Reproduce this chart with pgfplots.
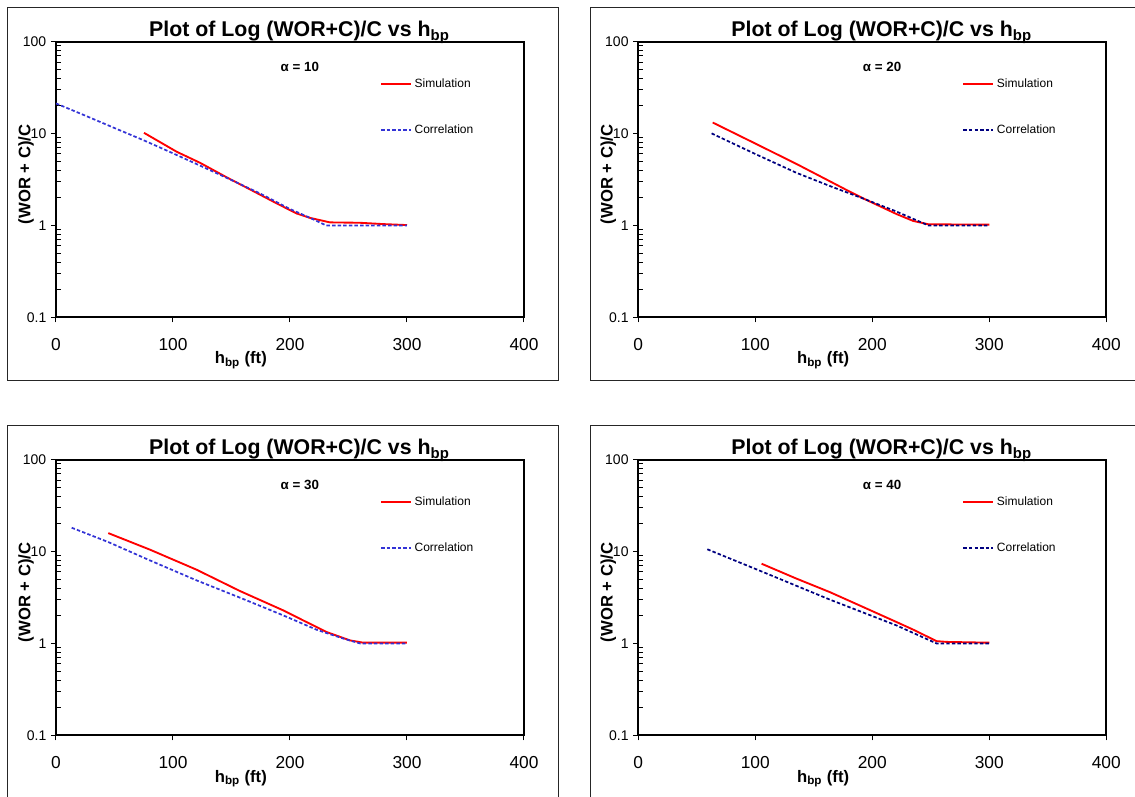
\documentclass[border=0pt]{standalone}
\usepackage{fontspec}
\setmainfont{Liberation Sans}
\usepackage{pgfplots}
\pgfplotsset{compat=1.18}
\definecolor{simred}{RGB}{255,0,0}
\definecolor{corblue}{RGB}{51,51,214}
\definecolor{cornavy}{RGB}{0,0,128}
\pgfplotsset{
    scale only axis, width=351pt, height=206.7pt,
    xmin=0, xmax=400, ymin=0.1, ymax=100,
    xtick={0,100,200,300,400},
    ytick={0.1,1,10,100}, yticklabels={0.1,1,10,100},
    yminorticks=false,
    extra y ticks={0.2,0.3,0.4,0.5,0.6,0.7,0.8,0.9,2,3,4,5,6,7,8,9,20,30,40,50,60,70,80,90},
    extra y tick labels={},
    extra y tick style={tick align=inside, major tick length=3.5pt},
    axis line style={line width=1.5pt, black},
    tick pos=left, tick align=outside,
    major tick length=3.75pt,
    every tick/.style={black, line width=0.75pt},
    /pgf/number format/assume math mode=true,
    xticklabel style={font=\fontsize{13}{15}\selectfont, yshift=-8.5pt},
    yticklabel style={font=\fontsize{10.5}{12}\selectfont},
    title style={font=\bfseries\fontsize{16}{19}\selectfont, at={(axis description cs:0.52,1)}, anchor=base, yshift=-2.25pt},
    xlabel style={font=\bfseries\fontsize{12.5}{15}\selectfont, at={([yshift=-35pt]axis description cs:0.395,0)}, anchor=base},
    ylabel style={font=\bfseries\fontsize{12.5}{15}\selectfont, at={([xshift=-19.3pt]axis description cs:0,0.519)}, anchor=base},
    legend style={draw=none, fill=none, at={(axis description cs:0.692,0.764)}, anchor=west,
      row sep=22.5pt, font=\fontsize{9}{11}\selectfont, inner sep=0pt},
    legend cell align=left,
    legend image code/.code={\draw[#1] (0pt,0pt) -- (22.5pt,0pt);},
}
\tikzset{
  sim/.style={simred, line width=1.4pt},
  corr/.style={#1, line width=1.3pt, dash pattern=on 2.6pt off 1.6pt},
}
\newcommand{\ptitle}{Plot of Log (WOR+C)/C vs h\textsubscript{bp}}
\newcommand{\pxlabel}{h\textsubscript{bp} (ft)}
\newcommand{\alphalabel}[1]{\node[font=\bfseries\fontsize{10}{12}\selectfont, anchor=base] at (axis description cs:0.521,0.891) {α = #1};}
\begin{document}
\begin{tikzpicture}
\path[use as bounding box] (0pt,0pt) rectangle (851.25pt,597pt);
% panel frames
\draw[black!85, line width=0.75pt] (5.5pt,311.5pt) rectangle (418.5pt,591.5pt);
\draw[black!85, line width=0.75pt] (860pt,591.5pt) -- (442.5pt,591.5pt) -- (442.5pt,311.5pt) -- (860pt,311.5pt);
\draw[black!85, line width=0.75pt] (5.5pt,-5pt) -- (5.5pt,277.5pt) -- (418.5pt,277.5pt) -- (418.5pt,-5pt);
\draw[black!85, line width=0.75pt] (442.5pt,-5pt) -- (442.5pt,277.5pt) -- (860pt,277.5pt);

% Panel 1: alpha = 10
\begin{semilogyaxis}[at={(42pt,359pt)}, anchor=south west, title={\ptitle}, xlabel={\pxlabel}, ylabel={(WOR + C)/C}]
\addplot[sim] coordinates {(75.2,10.2) (103.2,6.34) (123.1,4.81) (145.9,3.34) (165.8,2.47) (188.6,1.74) (205.7,1.35) (217,1.21) (234.2,1.08) (259.6,1.07) (279.7,1.035) (300,1.01)};
\addlegendentry{Simulation}
\addplot[corr=corblue] coordinates {(0,21.3) (25,15.7) (50,11.5) (75,8.45) (100,6.1) (125,4.37) (150,3.12) (175,2.21) (200,1.51) (215,1.245) (231,1.0) (300,1.0)};
\addlegendentry{Correlation}
\alphalabel{10}
\end{semilogyaxis}

% Panel 2: alpha = 20
\begin{semilogyaxis}[at={(478.7pt,359pt)}, anchor=south west, title={\ptitle}, xlabel={\pxlabel}, ylabel={(WOR + C)/C}]
\addplot[sim] coordinates {(63.6,13.2) (100,7.8) (135.4,4.66) (165,2.97) (178.1,2.43) (192.3,1.97) (220.8,1.33) (235,1.12) (248,1.03) (300,1.02)};
\addlegendentry{Simulation}
\addplot[corr=cornavy] coordinates {(62.7,10.05) (100,6.0) (135,3.75) (165,2.65) (192,1.97) (220,1.43) (248,1.0) (300,1.0)};
\addlegendentry{Correlation}
\alphalabel{20}
\end{semilogyaxis}

% Panel 3: alpha = 30
\begin{semilogyaxis}[at={(42pt,45.5pt)}, anchor=south west, title={\ptitle}, xlabel={\pxlabel}, ylabel={(WOR + C)/C}]
\addplot[sim] coordinates {(44.7,15.9) (80.3,10.5) (120.2,6.35) (157.3,3.72) (194.3,2.29) (211.4,1.78) (231.4,1.33) (251.3,1.08) (262.6,1.02) (300,1.02)};
\addlegendentry{Simulation}
\addplot[corr=corblue] coordinates {(13.4,18.2) (44.7,12.7) (80.3,8.02) (120.2,4.86) (157.3,3.15) (194.3,2.02) (222.8,1.41) (245.6,1.13) (260,1.0) (300,1.0)};
\addlegendentry{Correlation}
\alphalabel{30}
\end{semilogyaxis}

% Panel 4: alpha = 40
\begin{semilogyaxis}[at={(478.7pt,45.5pt)}, anchor=south west, title={\ptitle}, xlabel={\pxlabel}, ylabel={(WOR + C)/C}]
\addplot[sim] coordinates {(105.4,7.38) (135.4,5.07) (163.8,3.62) (192.3,2.49) (220.8,1.71) (235.2,1.41) (255,1.06) (263.5,1.04) (300,1.02)};
\addlegendentry{Simulation}
\addplot[corr=cornavy] coordinates {(59,10.6) (106.8,5.98) (163.8,3.0) (220.8,1.57) (255,1.0) (300,1.0)};
\addlegendentry{Correlation}
\alphalabel{40}
\end{semilogyaxis}
\end{tikzpicture}
\end{document}
